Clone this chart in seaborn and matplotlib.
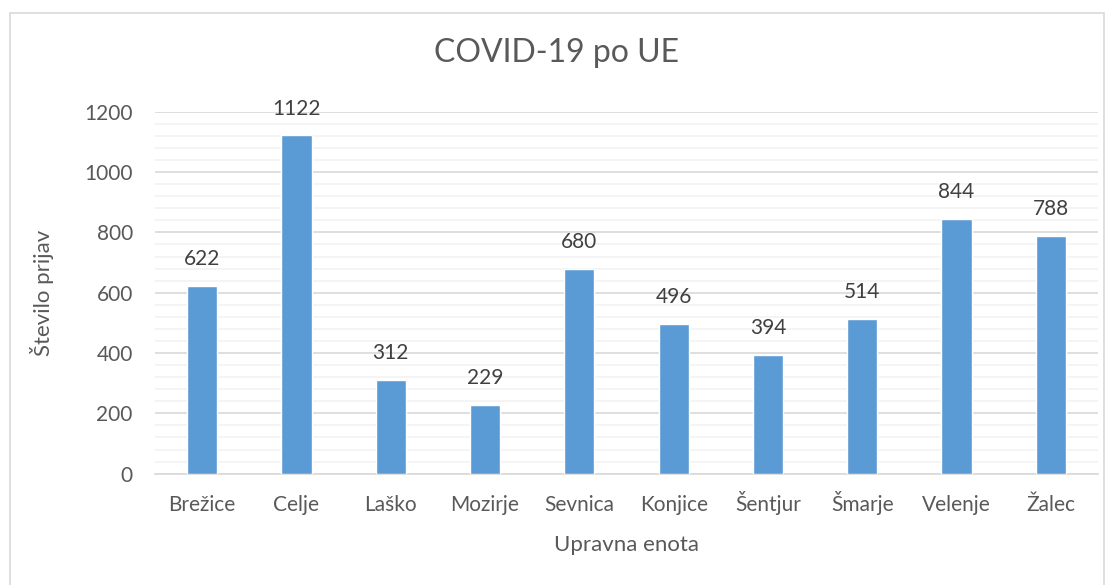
import pandas as pd
import seaborn as sns
import matplotlib.pyplot as plt
from matplotlib.patches import Rectangle
from matplotlib.ticker import MultipleLocator

# Data
enote = ['Brežice', 'Celje', 'Laško', 'Mozirje', 'Sevnica', 'Konjice',
         'Šentjur', 'Šmarje', 'Velenje', 'Žalec']
prijave = [622, 1122, 312, 229, 680, 496, 394, 514, 844, 788]
yticks = [0, 200, 400, 600, 800, 1000, 1200]

df = pd.DataFrame({'Upravna enota': enote, 'Število prijav': prijave})

sns.set_theme(style='white')
plt.rcParams['font.family'] = ['Lato', 'DejaVu Sans']
txt = '#595959'

fig = plt.figure(figsize=(11.12, 5.85), dpi=100)
ax = fig.add_axes([0.1394, 0.1903, 0.848, 0.6187])

sns.barplot(data=df, x='Upravna enota', y='Število prijav', color='#5B9BD5',
            width=0.32, saturation=1, ax=ax, zorder=3)

ax.set_xlim(-0.5, 9.5)
ax.set_ylim(0, 1200)
ax.set_yticks(yticks)
ax.yaxis.set_minor_locator(MultipleLocator(40))
ax.grid(axis='y', which='major', color='#d9d9d9', linewidth=1.2, zorder=0)
ax.grid(axis='y', which='minor', color='#f2f2f2', linewidth=1.2, zorder=0)
ax.grid(axis='x', visible=False)
for s in ['top', 'right', 'left']:
    ax.spines[s].set_visible(False)
ax.spines['bottom'].set_color('#d9d9d9')
ax.spines['bottom'].set_linewidth(1.2)
ax.tick_params(axis='both', which='both', length=0, labelsize=15, colors=txt)
ax.tick_params(axis='x', pad=27)
ax.tick_params(axis='y', pad=16)
for lab in ax.get_xticklabels():
    lab.set_va('baseline')

# value labels
for c in ax.containers:
    ax.bar_label(c, padding=12, fontsize=15, color='#404040')

ax.set_xlabel('Upravna enota', fontsize=16, color=txt, labelpad=14)
ax.set_ylabel('Število prijav', fontsize=16, color=txt, labelpad=22)
fig.suptitle('COVID-19 po UE', fontsize=23, color=txt, y=0.935)

# chart border
fig.patches.append(Rectangle((10 / 1112, -0.01), 1094 / 1112, 1 - 13 / 585 + 0.01,
                             transform=fig.transFigure, fill=False,
                             edgecolor='#d9d9d9', linewidth=1.2))

fig.savefig('out.png', dpi=100)
